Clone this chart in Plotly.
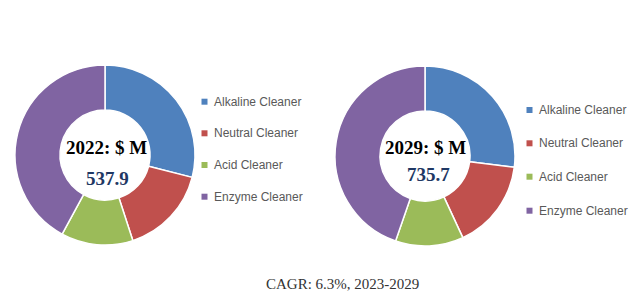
import plotly.graph_objects as go

W, H = 643, 303

categories = ["Alkaline Cleaner", "Neutral Cleaner", "Acid Cleaner", "Enzyme Cleaner"]
share_2022 = [29.0, 16.0, 12.9, 42.1]
share_2029 = [27.0, 16.1, 12.2, 44.7]
years = ["2022", "2029"]
totals = ["537.9", "735.7"]
cagr_text = "CAGR: 6.3%, 2023-2029"
colors = ["#4F81BD", "#C0504D", "#9BBB59", "#8064A2"]

def px_x(x):
    return x / W

def px_y(y):
    return 1 - y / H

fig = go.Figure()

pie_domains = [
    dict(x=[px_x(15), px_x(195)], y=[px_y(245), px_y(65)]),
    dict(x=[px_x(335), px_x(515)], y=[px_y(246), px_y(66)]),
]
for vals, dom in zip([share_2022, share_2029], pie_domains):
    fig.add_trace(go.Pie(
        labels=categories, values=vals, domain=dom, hole=0.5,
        sort=False, direction="clockwise", rotation=0,
        textinfo="none", hoverinfo="label+percent", showlegend=False,
        marker=dict(colors=colors, line=dict(color="white", width=1.5)),
    ))

annotations = []
shapes = []

# centre labels
centres = [(106, 147, 107, 178), (425, 147, 428, 174)]
for (yx, yy, tx, ty), yr, tot in zip(centres, years, totals):
    annotations.append(dict(x=px_x(yx), y=px_y(yy), xref="paper", yref="paper",
                            text=f"<b>{yr}: $ M</b>", showarrow=False,
                            font=dict(family="Liberation Serif", size=19, color="#000000"),
                            xanchor="center", yanchor="middle"))
    annotations.append(dict(x=px_x(tx), y=px_y(ty), xref="paper", yref="paper",
                            text=f"<b>{tot}</b>", showarrow=False,
                            font=dict(family="Liberation Serif", size=19, color="#1F3864"),
                            xanchor="center", yanchor="middle"))

# legends (drawn manually for Excel-like spacing)
legend_specs = [
    (204.5, 212, [101.7, 133.3, 165.0, 196.7]),
    (529.5, 537, [110.0, 143.3, 176.7, 210.7]),
]
for mx, tx, rows in legend_specs:
    for cat, col, ry in zip(categories, colors, rows):
        shapes.append(dict(type="rect", xref="paper", yref="paper",
                           x0=px_x(mx - 3), x1=px_x(mx + 3),
                           y0=px_y(ry + 3), y1=px_y(ry - 3),
                           fillcolor=col, line=dict(width=0)))
        annotations.append(dict(x=px_x(tx), y=px_y(ry), xref="paper", yref="paper",
                                text=cat, showarrow=False,
                                font=dict(family="Liberation Sans", size=12, color="#595959"),
                                xanchor="left", yanchor="middle"))

annotations.append(dict(x=px_x(342), y=px_y(284), xref="paper", yref="paper",
                        text=cagr_text, showarrow=False,
                        font=dict(family="Liberation Serif", size=15, color="#333333"),
                        xanchor="center", yanchor="middle"))

fig.update_layout(
    width=W, height=H,
    margin=dict(l=0, r=0, t=0, b=0),
    paper_bgcolor="white", plot_bgcolor="white",
    annotations=annotations, shapes=shapes,
    showlegend=False,
)

fig.write_html("out.html")
